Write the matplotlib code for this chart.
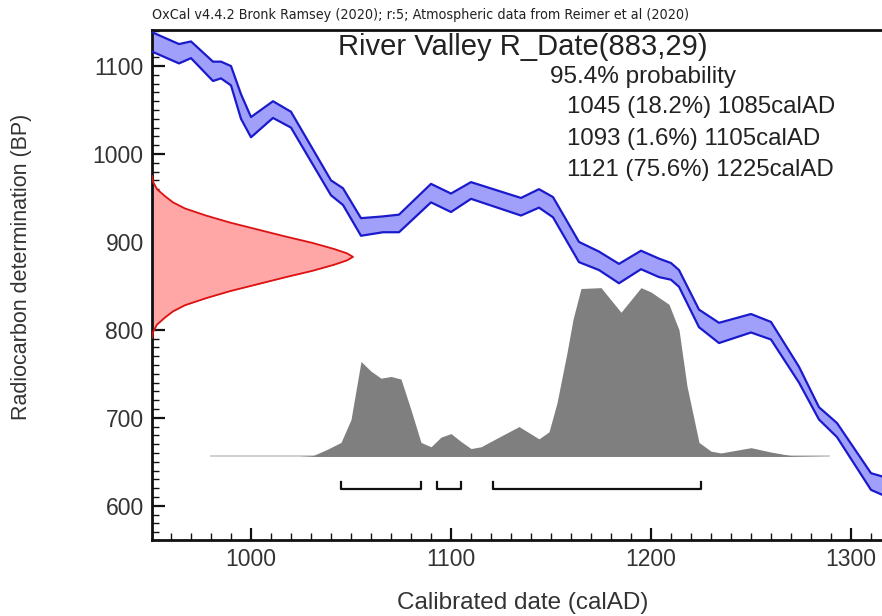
"""OxCal style calibration plot for River Valley R_Date(883,29)."""
import matplotlib
matplotlib.use("Agg")
import matplotlib.pyplot as plt
from matplotlib.ticker import MultipleLocator

plt.rcParams['font.family'] = ['Liberation Sans', 'DejaVu Sans']

# calibration curve band (calAD, upper / lower BP)
cal_year = [950, 964, 970, 981, 985, 990, 995, 1000, 1011, 1020, 1040, 1046,
            1055, 1066, 1074, 1090, 1100, 1110, 1135, 1144, 1151, 1164, 1174,
            1184, 1195, 1204, 1210, 1214, 1224, 1234, 1250, 1260, 1274, 1284,
            1293, 1310, 1316]
cal_hi = [1139, 1125, 1128, 1105, 1105, 1100, 1068, 1042, 1060, 1048, 970, 961,
          927, 929, 931, 966, 955, 968, 950, 960, 951, 900, 889,
          875, 890, 881, 876, 868, 823, 808, 818, 809, 758, 712,
          694, 637, 633]
cal_lo = [1117, 1103, 1109, 1083, 1086, 1078, 1040, 1019, 1041, 1030, 953, 942,
          907, 911, 911, 945, 934, 949, 930, 939, 928, 877, 868,
          853, 869, 860, 857, 849, 803, 785, 797, 789, 740, 698,
          678, 618, 612]

# radiocarbon date profile on the y axis (BP, width in years)
r_bp = [975, 968, 960, 952, 945, 938, 930, 922, 914, 906, 899, 892, 887, 883,
        879, 874, 867, 860, 852, 844, 836, 828, 821, 814, 806, 798, 791]
r_width = [0, 0.6, 2.5, 6.5, 10.5, 16.5, 27, 39, 53, 67, 80, 91, 97.5, 100.5,
           97.5, 91, 80, 67, 53, 39, 27, 16.5, 10.5, 6.5, 2.5, 0.6, 0]

# posterior (calibrated) distribution, heights in BP units above base
post_year = [980, 1024, 1031, 1038, 1045, 1050, 1055, 1060, 1065, 1070, 1075,
             1080, 1085, 1090, 1095, 1100, 1105, 1110, 1115, 1124, 1134, 1139,
             1144, 1149, 1153, 1158, 1161, 1165, 1175, 1185, 1195, 1200, 1209,
             1214, 1218, 1224, 1230, 1235, 1250, 1260, 1270, 1289]
post_h = [0, 0, 1, 8, 16, 42, 108, 97, 89, 91, 88, 53, 16, 11, 22, 26, 17, 9,
          11, 22, 34, 27, 20, 28, 61, 118, 156, 191, 192, 164, 192, 187, 173,
          144, 80, 16, 6, 4, 10, 5, 1, 0]
post_base = 656

# 95.4% ranges
ranges = [(1045, 1085), (1093, 1105), (1121, 1225)]
range_text = ["1045 (18.2%) 1085calAD", "1093 (1.6%) 1105calAD",
              "1121 (75.6%) 1225calAD"]

fig = plt.figure(figsize=(8.82, 6.16), dpi=100)
ax = fig.add_axes([152 / 882, 76 / 616, 730 / 882, 510 / 616])

# red radiocarbon profile
r_x = [950.5 + w for w in r_width]
ax.fill_betweenx(r_bp, 950.5, r_x, color='#ffa6a6', lw=0, zorder=2)
ax.plot(r_x, r_bp, color='#dd1111', lw=1.3, zorder=3)

# calibration band
ax.fill_between(cal_year, cal_lo, cal_hi, color='#a0a0fa', lw=0, zorder=2)
ax.plot(cal_year, cal_hi, color='#1a1acc', lw=1.6, zorder=3)
ax.plot(cal_year, cal_lo, color='#1a1acc', lw=1.6, zorder=3)

# posterior
post_y = [post_base + h for h in post_h]
ax.fill_between(post_year, post_base, post_y, color='#7f7f7f', lw=0, zorder=2)
ax.plot([post_year[0], post_year[-1]], [post_base, post_base],
        color='#c8c8c8', lw=1.2, zorder=1)

# range brackets
for a, b in ranges:
    ax.plot([a, a, b, b], [627, 619, 619, 627], color='#111111', lw=1.6,
            zorder=3)

ax.set_xlim(950.5, 1315.5)
ax.set_ylim(561, 1141)
ax.xaxis.set_major_locator(MultipleLocator(100))
ax.xaxis.set_minor_locator(MultipleLocator(10))
ax.yaxis.set_major_locator(MultipleLocator(100))
ax.yaxis.set_minor_locator(MultipleLocator(10))
ax.tick_params(which='both', direction='in', top=False, right=False,
               labelsize=16.5, labelcolor='#333333', color='#111111')
ax.tick_params(which='major', length=9, width=1.6, pad=6)
ax.tick_params(which='minor', length=5, width=1.0)
for side in ['left', 'bottom', 'top']:
    ax.spines[side].set_linewidth(2)
    ax.spines[side].set_color('#111111')
ax.spines['right'].set_visible(False)

def px(x, y):
    return x / 882, 1 - y / 616

fig.text(*px(152, 15), "OxCal v4.4.2 Bronk Ramsey (2020); r:5; Atmospheric data from Reimer et al (2020)",
         family='DejaVu Sans', fontstretch='condensed', fontsize=10.3,
         ha='left', va='center', color='#222222')
fig.text(*px(338, 47), "River Valley R_Date(883,29)", fontsize=21,
         ha='left', va='center', color='#222222')
fig.text(*px(550, 77), "95.4% probability", fontsize=17.5, ha='left',
         va='center', color='#222222')
for i, t in enumerate(range_text):
    fig.text(*px(567, 107 + 31.5 * i), t, fontsize=17.3, ha='left',
             va='center', color='#222222')

fig.text(*px(22, 267), "Radiocarbon determination (BP)", fontsize=15.5,
         rotation=90, ha='center', va='center', color='#333333')
fig.text(*px(523, 603), "Calibrated date (calAD)", fontsize=17.5,
         ha='center', va='center', color='#333333')

fig.savefig('out.png', dpi=100)
